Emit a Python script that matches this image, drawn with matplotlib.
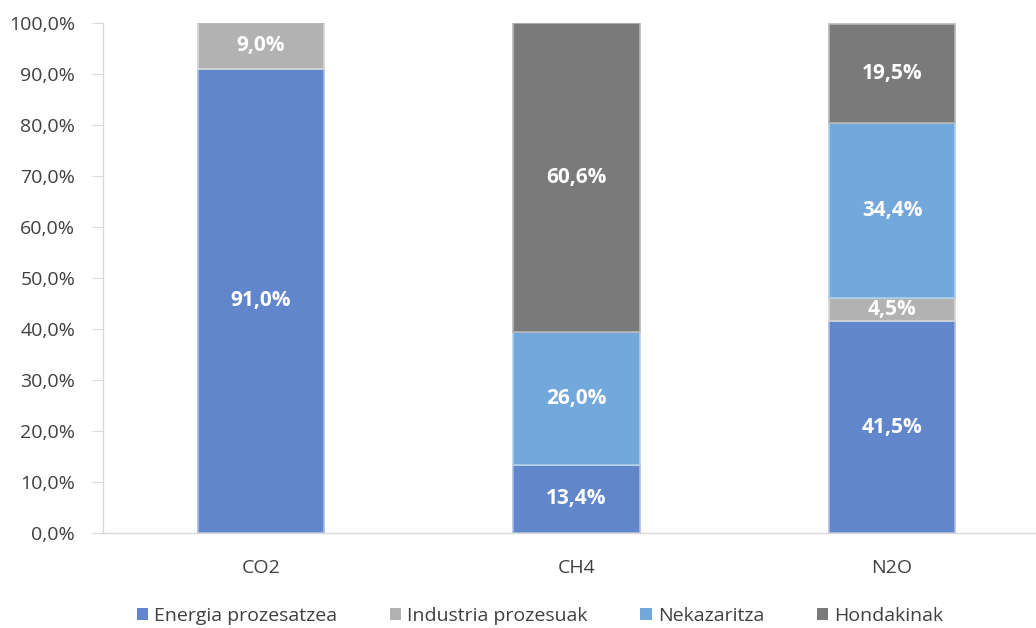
import matplotlib
matplotlib.use("Agg")
import matplotlib.pyplot as plt
import matplotlib.colors as mcolors
import numpy as np

categories = ["CO2", "CH4", "N2O"]
series_names = ["Energia prozesatzea", "Industria prozesuak", "Nekazaritza", "Hondakinak"]
energia = [91.0, 13.4, 41.5]
industria = [9.0, 0.0, 4.5]
nekazaritza = [0.0, 26.0, 34.4]
hondakinak = [0.0, 60.6, 19.5]
y_ticks = [0, 10, 20, 30, 40, 50, 60, 70, 80, 90, 100]

colors = ["#6186cc", "#b2b2b2", "#72a8db", "#7a7a7a"]
series = [energia, industria, nekazaritza, hondakinak]

plt.rcParams['font.family'] = ['Open Sans', 'DejaVu Sans']

fig = plt.figure(figsize=(10.36, 6.28), dpi=100)
ax = fig.add_axes([103/1036, (628-533)/628, 1 - 103/1036, (533-23)/628])

x = np.arange(len(categories))
width = 0.4
bottom = np.zeros(len(categories))
for name, vals, col in zip(series_names, series, colors):
    vals = np.array(vals)
    rgb = np.array(mcolors.to_rgb(col))
    edge = tuple(rgb + (1 - rgb) * 0.45)
    ax.bar(x, vals, width, bottom=bottom, color=col, edgecolor=edge,
           linewidth=1.2, label=name, zorder=2)
    for xi, v, b in zip(x, vals, bottom):
        if v >= 1:
            ax.text(xi, b + v / 2, f"{v:.1f}%".replace(".", ","), ha="center",
                    va="center", color="white", fontsize=15, fontweight="bold", zorder=3)
    bottom = bottom + vals

ax.set_xlim(-0.5, 2.5 - 14/315.7)
ax.set_ylim(0, 100)
ax.set_yticks(y_ticks)
ax.set_yticklabels([f"{t:.1f}%".replace(".", ",") for t in y_ticks])
ax.set_xticks(x)
ax.set_xticklabels(categories)

for s in ["top", "right"]:
    ax.spines[s].set_visible(False)
ax.spines["left"].set_color("#d9d9d9")
ax.spines["bottom"].set_color("#d9d9d9")
ax.spines["left"].set_linewidth(1)
ax.spines["bottom"].set_linewidth(1)
ax.tick_params(axis="y", length=8, color="#d9d9d9", labelcolor="#404040", labelsize=14, pad=12)
ax.tick_params(axis="x", length=0, labelcolor="#404040", labelsize=14, pad=19)

leg = fig.legend(loc="center", bbox_to_anchor=(540/1036, 1 - 616/628), ncol=4,
                 frameon=False, fontsize=14, handlelength=0.6, handleheight=0.6,
                 handletextpad=0.3, columnspacing=2.7, labelcolor="#404040")
for h in leg.legend_handles:
    h.set_edgecolor("none")

fig.savefig("out.png", dpi=100)
